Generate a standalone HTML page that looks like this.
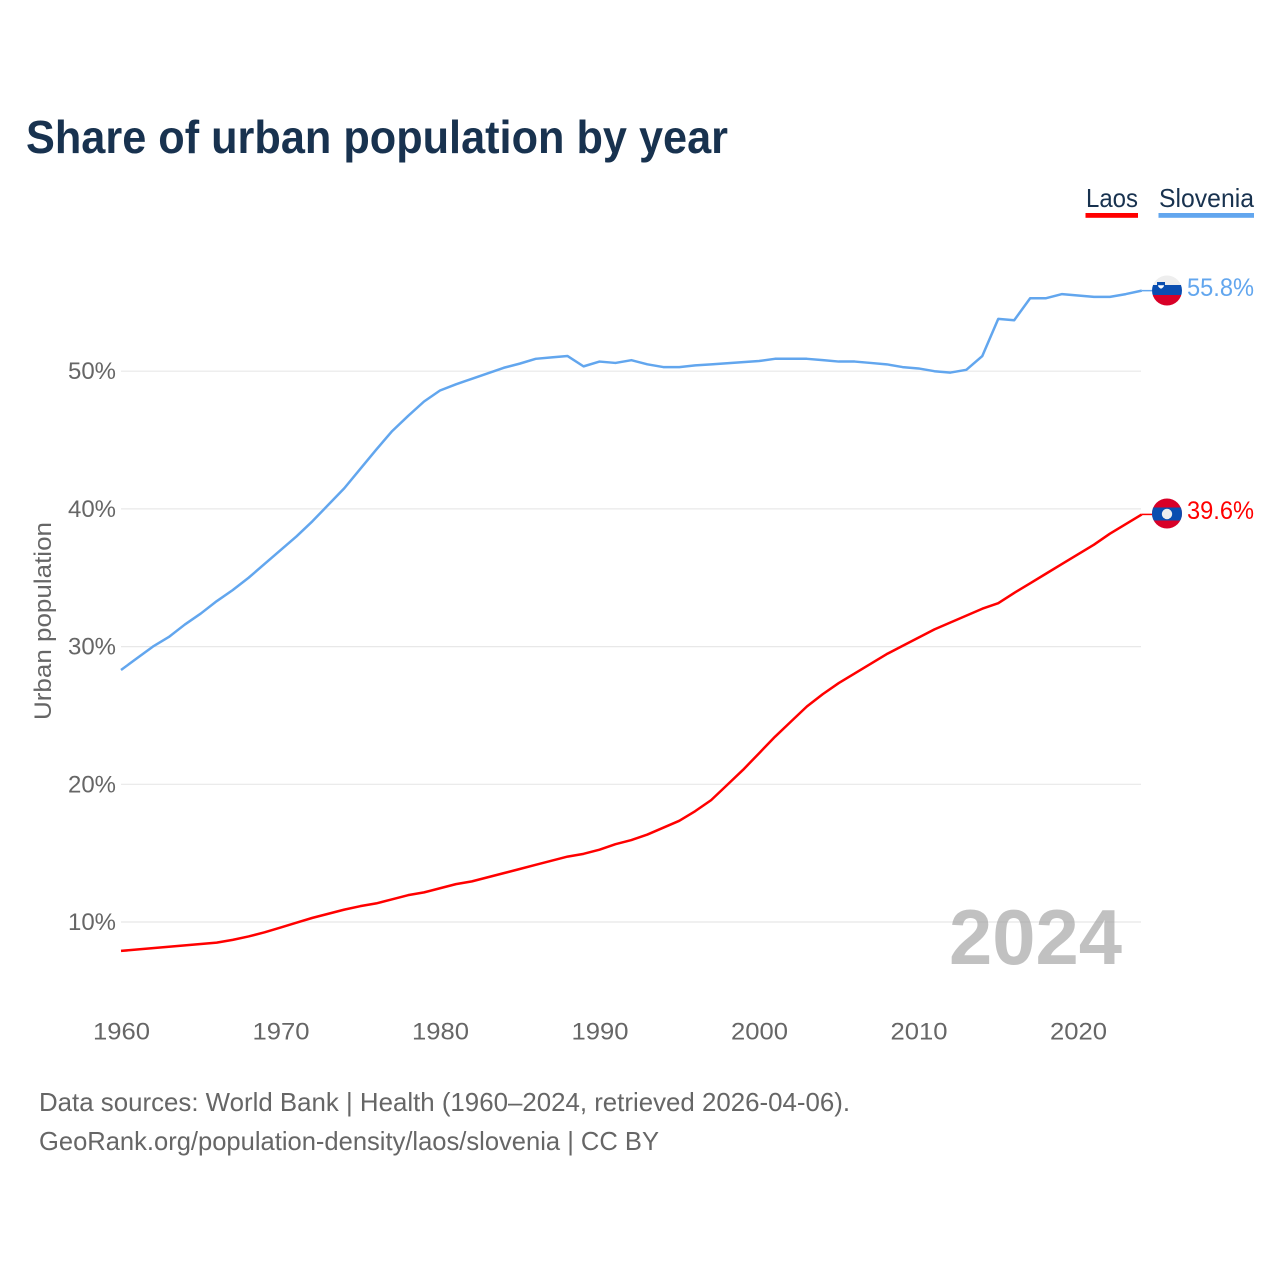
<!DOCTYPE html>
<html lang="en">
<head>
<meta charset="utf-8">
<title>Share of urban population by year</title>
<style>
html,body{margin:0;padding:0;background:#fff;}
svg{display:block;font-family:"Liberation Sans",sans-serif;}
</style>
</head>
<body>
<svg id="chart" width="1280" height="1280" viewBox="0 0 1280 1280" xmlns="http://www.w3.org/2000/svg">
  <defs>
    <clipPath id="flag-clip-si"><circle cx="1167" cy="290.5" r="15"></circle></clipPath>
    <clipPath id="flag-clip-la"><circle cx="1167" cy="513.5" r="15"></circle></clipPath>
  </defs>
  <rect x="0" y="0" width="1280" height="1280" fill="#ffffff"></rect>
  <text x="26" y="153" font-size="46" font-weight="700" fill="#18324f" textLength="702" lengthAdjust="spacingAndGlyphs">Share of urban population by year</text>

  <g id="grid"></g>
  <g id="y-ticks"></g>
  <g id="x-ticks"></g>
  <text transform="translate(51,621) rotate(-90)" text-anchor="middle" font-size="24" fill="#666666" textLength="198" lengthAdjust="spacingAndGlyphs">Urban population</text>

  <text x="949" y="964" font-size="78" font-weight="700" fill="#a6a6a6" fill-opacity="0.7" textLength="173" lengthAdjust="spacingAndGlyphs">2024</text>

  <path id="line-laos" fill="none" stroke="#ff0000" stroke-width="2.5" stroke-linejoin="round"></path>
  <path id="line-slovenia" fill="none" stroke="#62a6ee" stroke-width="2.5" stroke-linejoin="round"></path>
  <path id="stub-laos" fill="none" stroke="#ff0000" stroke-width="1.5"></path>
  <path id="stub-slovenia" fill="none" stroke="#62a6ee" stroke-width="1.5"></path>

  <g clip-path="url(#flag-clip-si)">
    <rect x="1150" y="274" width="34" height="11" fill="#eeeeee"></rect>
    <rect x="1150" y="285" width="34" height="10" fill="#0a4eb0"></rect>
    <rect x="1150" y="295" width="34" height="12" fill="#d80027"></rect>
    <path d="M1157 282h8v3.500q0 2.500-4 4.500q-4-2-4-4.500z" fill="#0a4eb0"></path>
    <path d="M1158 285.300h6q0 2-3 3.500q-3-1.500-3-3.500z" fill="#ffffff"></path>
  </g>
  <g clip-path="url(#flag-clip-la)">
    <rect x="1150" y="497" width="34" height="34" fill="#d80027"></rect>
    <rect x="1150" y="507.500" width="34" height="13" fill="#0a4eb0"></rect>
    <circle cx="1167" cy="514" r="5.200" fill="#eeeeee"></circle>
  </g>

  <text x="1187" y="296" font-size="25" fill="#62a6ee" textLength="67" lengthAdjust="spacingAndGlyphs">55.8%</text>
  <text x="1187" y="519" font-size="25" fill="#ff0000" textLength="67" lengthAdjust="spacingAndGlyphs">39.6%</text>

  <g>
    <g>
      <text x="1086" y="207" font-size="26" fill="#18324f" textLength="52" lengthAdjust="spacingAndGlyphs">Laos</text>
      <rect x="1085.500" y="213" width="52.500" height="4.800" fill="#ff0000"></rect>
    </g>
    <g>
      <text x="1159" y="207" font-size="26" fill="#18324f" textLength="95" lengthAdjust="spacingAndGlyphs">Slovenia</text>
      <rect x="1158.500" y="213" width="95.500" height="4.800" fill="#62a6ee"></rect>
    </g>
  </g>

  <text x="39" y="1111" font-size="26" fill="#666666" textLength="811" lengthAdjust="spacingAndGlyphs">Data sources: World Bank | Health (1960–2024, retrieved 2026-04-06).</text>
  <text x="39" y="1150" font-size="26" fill="#666666" textLength="620" lengthAdjust="spacingAndGlyphs">GeoRank.org/population-density/laos/slovenia | CC BY</text>
</svg>
<script>
const years = [1960,1961,1962,1963,1964,1965,1966,1967,1968,1969,1970,1971,1972,1973,1974,1975,1976,1977,1978,1979,1980,1981,1982,1983,1984,1985,1986,1987,1988,1989,1990,1991,1992,1993,1994,1995,1996,1997,1998,1999,2000,2001,2002,2003,2004,2005,2006,2007,2008,2009,2010,2011,2012,2013,2014,2015,2016,2017,2018,2019,2020,2021,2022,2023,2024];
const laosValues = [7.9,8.0,8.1,8.2,8.3,8.4,8.5,8.7,8.95,9.25,9.6,9.95,10.3,10.6,10.9,11.15,11.35,11.65,11.95,12.15,12.45,12.75,12.95,13.25,13.55,13.85,14.15,14.45,14.75,14.95,15.25,15.65,15.95,16.35,16.85,17.35,18.05,18.85,19.95,21.05,22.25,23.45,24.55,25.65,26.55,27.35,28.05,28.75,29.45,30.05,30.65,31.25,31.75,32.25,32.75,33.15,33.9,34.6,35.3,36.0,36.7,37.4,38.2,38.9,39.6];
const sloveniaValues = [28.3,29.15,30.0,30.7,31.6,32.4,33.3,34.1,35.0,36.0,37.0,38.0,39.1,40.3,41.5,42.9,44.3,45.65,46.75,47.8,48.6,49.05,49.45,49.85,50.25,50.55,50.9,51.0,51.1,50.35,50.7,50.6,50.8,50.5,50.3,50.3,50.42,50.5,50.58,50.66,50.74,50.9,50.9,50.9,50.8,50.7,50.7,50.6,50.5,50.3,50.2,50.0,49.9,50.1,51.1,53.8,53.7,55.3,55.3,55.6,55.5,55.4,55.4,55.6,55.85];
const yTickValues = [10,20,30,40,50];
const xTickValues = [1960,1970,1980,1990,2000,2010,2020];

const NS = 'http://www.w3.org/2000/svg';
function xScale(year){ return 121 + (year - 1960) * 15.95; }
function yScale(value){ return 922 - (value - 10) * 13.77; }

function linePath(values){
  return values.map(function(v,i){
    return (i ? 'L' : 'M') + xScale(years[i]).toFixed(2) + ' ' + yScale(v).toFixed(2);
  }).join('');
}
function stubPath(values){
  const last = values.length - 1;
  const y = yScale(values[last]).toFixed(2);
  return 'M' + xScale(years[last]).toFixed(2) + ' ' + y + 'L1152 ' + y;
}

const gridGroup = document.getElementById('grid');
const yGroup = document.getElementById('y-ticks');
const xGroup = document.getElementById('x-ticks');

yTickValues.forEach(function(v){
  const line = document.createElementNS(NS,'line');
  
  
  line.setAttribute('x1', 121);
  line.setAttribute('x2', 1141);
  line.setAttribute('y1', yScale(v));
  line.setAttribute('y2', yScale(v));
  line.setAttribute('stroke', '#e8e8e8');
  line.setAttribute('stroke-width', '1.2');
  gridGroup.appendChild(line);

  const label = document.createElementNS(NS,'text');
  
  
  label.setAttribute('x', 68);
  label.setAttribute('y', yScale(v) + 8);
  label.setAttribute('font-size', '24');
  label.setAttribute('fill', '#666666');
  label.setAttribute('textLength', '48');
  label.setAttribute('lengthAdjust', 'spacingAndGlyphs');
  label.textContent = v + '%';
  yGroup.appendChild(label);
});

xTickValues.forEach(function(t){
  const label = document.createElementNS(NS,'text');
  
  
  label.setAttribute('x', xScale(t) - 28);
  label.setAttribute('y', 1039.500);
  label.setAttribute('font-size', '24');
  label.setAttribute('fill', '#666666');
  label.setAttribute('textLength', '57');
  label.setAttribute('lengthAdjust', 'spacingAndGlyphs');
  label.textContent = t;
  xGroup.appendChild(label);
});

document.getElementById('line-laos').setAttribute('d', linePath(laosValues));
document.getElementById('line-slovenia').setAttribute('d', linePath(sloveniaValues));
document.getElementById('stub-laos').setAttribute('d', stubPath(laosValues));
document.getElementById('stub-slovenia').setAttribute('d', stubPath(sloveniaValues));
</script>
</body>
</html>
